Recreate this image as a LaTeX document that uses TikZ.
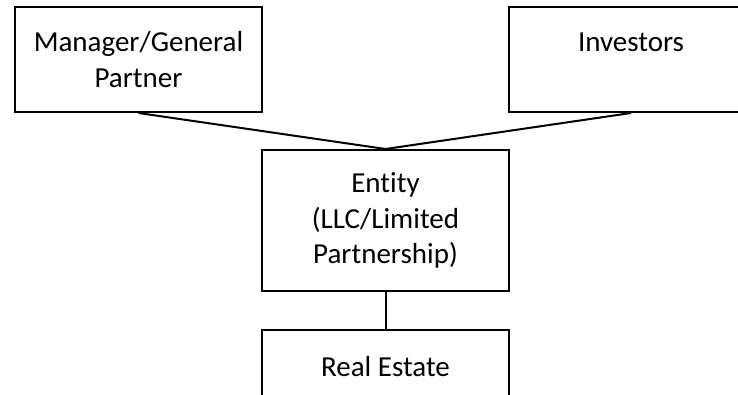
\documentclass[tikz,border=0pt]{standalone}
\usepackage{fontspec}
\setmainfont{Carlito}[Ligatures={NoCommon}]
\usetikzlibrary{positioning}

\begin{document}
\begin{tikzpicture}
[x=1pt, y=-1pt, line width=2pt, node distance=37pt,
every node/.style={font=\fontsize{29}{35.5}\selectfont},
party/.style={draw, rectangle, align=center, inner sep=0pt, line width=2pt, minimum width=247pt}
]
  \useasboundingbox (0,0) rectangle (738,394);
  \clip (0,0) rectangle (738,394);
  \node[party, minimum height=105pt] (mgr) at (138.5,59.5) {Manager/General\\Partner};
  \node[party, minimum height=105pt, minimum width=244pt] (inv) at (631,59.5) {Investors\\\mbox{}};
  \node[party, minimum height=141pt] (entity) at (385.5,220.5) {Entity\\(LLC/Limited\\Partnership)};
  \node[party, minimum height=74pt] (estate) [below=of entity] {Real Estate};

  \path
	(mgr.south) edge (entity.north)
	(inv.south) edge (entity.north)
	(entity) edge (estate)
    ;
\end{tikzpicture}
\end{document}
